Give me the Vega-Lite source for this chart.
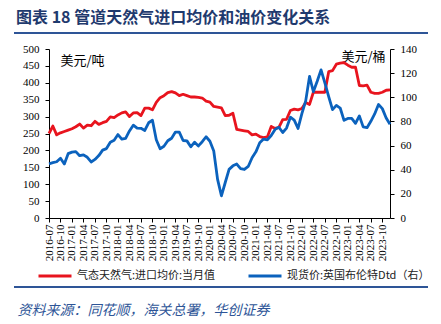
{
  "$schema": "https://vega.github.io/schema/vega-lite/v6.json",
  "background": "white",
  "autosize": "none",
  "width": 341,
  "height": 169,
  "padding": {"left": 49, "top": 49, "right": 51, "bottom": 106},
  "config": {
    "view": {"stroke": null},
    "font": "Noto Sans CJK SC"
  },
  "title": {
    "text": "图表 18 管道天然气进口均价和油价变化关系",
    "orient": "top",
    "anchor": "start",
    "frame": "bounds",
    "offset": 6,
    "dx": 3,
    "font": "Noto Sans CJK SC",
    "fontSize": 16,
    "fontWeight": "bold",
    "color": "#1F3A6E"
  },
  "datasets": {
    "d": [
      {"m":"2016-07","gas":250,"brent":44.9},{"m":"2016-08","gas":272,"brent":45.8},{"m":"2016-09","gas":246,"brent":46.6},
      {"m":"2016-10","gas":252,"brent":49.5},{"m":"2016-11","gas":256,"brent":44.8},{"m":"2016-12","gas":260,"brent":53.3},
      {"m":"2017-01","gas":264,"brent":54.6},{"m":"2017-02","gas":270,"brent":55.0},{"m":"2017-03","gas":278,"brent":51.6},
      {"m":"2017-04","gas":266,"brent":52.3},{"m":"2017-05","gas":275,"brent":50.3},{"m":"2017-06","gas":273,"brent":46.4},
      {"m":"2017-07","gas":286,"brent":48.5},{"m":"2017-08","gas":277,"brent":51.7},{"m":"2017-09","gas":282,"brent":56.2},
      {"m":"2017-10","gas":286,"brent":57.5},{"m":"2017-11","gas":299,"brent":62.7},{"m":"2017-12","gas":297,"brent":64.4},
      {"m":"2018-01","gas":305,"brent":69.1},{"m":"2018-02","gas":311,"brent":65.3},{"m":"2018-03","gas":314,"brent":66.0},
      {"m":"2018-04","gas":300,"brent":72.1},{"m":"2018-05","gas":311,"brent":76.9},{"m":"2018-06","gas":312,"brent":74.4},
      {"m":"2018-07","gas":303,"brent":74.3},{"m":"2018-08","gas":325,"brent":72.5},{"m":"2018-09","gas":325,"brent":78.9},
      {"m":"2018-10","gas":320,"brent":81.0},{"m":"2018-11","gas":342,"brent":64.8},{"m":"2018-12","gas":356,"brent":57.4},
      {"m":"2019-01","gas":362,"brent":59.4},{"m":"2019-02","gas":371,"brent":64.0},{"m":"2019-03","gas":374,"brent":66.1},
      {"m":"2019-04","gas":370,"brent":71.2},{"m":"2019-05","gas":362,"brent":71.1},{"m":"2019-06","gas":366,"brent":64.2},
      {"m":"2019-07","gas":362,"brent":63.9},{"m":"2019-08","gas":358,"brent":59.0},{"m":"2019-09","gas":358,"brent":62.8},
      {"m":"2019-10","gas":357,"brent":59.7},{"m":"2019-11","gas":355,"brent":63.2},{"m":"2019-12","gas":346,"brent":67.3},
      {"m":"2020-01","gas":343,"brent":63.6},{"m":"2020-02","gas":330,"brent":55.5},{"m":"2020-03","gas":328,"brent":32.0},
      {"m":"2020-04","gas":326,"brent":18.4},{"m":"2020-05","gas":303,"brent":29.4},{"m":"2020-06","gas":304,"brent":40.3},
      {"m":"2020-07","gas":310,"brent":43.2},{"m":"2020-08","gas":262,"brent":44.7},{"m":"2020-09","gas":260,"brent":40.9},
      {"m":"2020-10","gas":258,"brent":40.2},{"m":"2020-11","gas":256,"brent":42.7},{"m":"2020-12","gas":246,"brent":49.9},
      {"m":"2021-01","gas":248,"brent":54.8},{"m":"2021-02","gas":241,"brent":62.3},{"m":"2021-03","gas":238,"brent":65.4},
      {"m":"2021-04","gas":240,"brent":64.8},{"m":"2021-05","gas":271,"brent":68.3},{"m":"2021-06","gas":265,"brent":73.4},
      {"m":"2021-07","gas":268,"brent":75.2},{"m":"2021-08","gas":291,"brent":70.8},{"m":"2021-09","gas":292,"brent":74.5},
      {"m":"2021-10","gas":318,"brent":83.5},{"m":"2021-11","gas":322,"brent":81.1},{"m":"2021-12","gas":320,"brent":74.2},
      {"m":"2022-01","gas":324,"brent":86.5},{"m":"2022-02","gas":342,"brent":97.0},{"m":"2022-03","gas":336,"brent":117.3},
      {"m":"2022-04","gas":372,"brent":104.6},{"m":"2022-05","gas":372,"brent":113.3},{"m":"2022-06","gas":372,"brent":122.7},
      {"m":"2022-07","gas":372,"brent":111.9},{"m":"2022-08","gas":433,"brent":100.5},{"m":"2022-09","gas":436,"brent":89.8},
      {"m":"2022-10","gas":455,"brent":93.3},{"m":"2022-11","gas":458,"brent":91.1},{"m":"2022-12","gas":460,"brent":80.9},
      {"m":"2023-01","gas":452,"brent":82.5},{"m":"2023-02","gas":446,"brent":82.6},{"m":"2023-03","gas":446,"brent":78.4},
      {"m":"2023-04","gas":392,"brent":84.6},{"m":"2023-05","gas":391,"brent":75.5},{"m":"2023-06","gas":393,"brent":74.8},
      {"m":"2023-07","gas":372,"brent":80.1},{"m":"2023-08","gas":369,"brent":86.2},{"m":"2023-09","gas":369,"brent":94.0},
      {"m":"2023-10","gas":372,"brent":90.6},{"m":"2023-11","gas":378,"brent":82.9},{"m":"2023-12","gas":379,"brent":77.6}
    ],
    "sep": [
      {"a": 0, "b": 1, "p": "top"},
      {"a": 0, "b": 1, "p": "bottom"}
    ]
  },
  "layer": [
    {
      "data": {"name": "d"},
      "mark": {"type": "line", "strokeWidth": 2.8, "strokeJoin": "round"},
      "encoding": {
        "x": {
          "field": "m",
          "type": "ordinal",
          "sort": null,
          "scale": {"type": "point", "padding": 0},
          "axis": {
            "title": null,
            "values": ["2016-07","2016-10","2017-01","2017-04","2017-07","2017-10","2018-01","2018-04","2018-07","2018-10","2019-01","2019-04","2019-07","2019-10","2020-01","2020-04","2020-07","2020-10","2021-01","2021-04","2021-07","2021-10","2022-01","2022-04","2022-07","2022-10","2023-01","2023-04","2023-07","2023-10"],
            "labelAngle": -90,
            "labelAlign": "right",
            "labelBaseline": "middle",
            "labelFont": "Liberation Serif",
            "labelFontSize": 11,
            "labelColor": "#000000",
            "labelPadding": 2,
            "labelOverlap": false,
            "tickSize": 4,
            "tickColor": "#000000",
            "domainColor": "#000000",
            "grid": false
          }
        },
        "y": {
          "field": "gas",
          "type": "quantitative",
          "scale": {"domain": [0, 500], "nice": false},
          "axis": {
            "title": "美元/吨",
            "titleAngle": 0,
            "titleX": 33,
            "titleY": 11,
            "titleAlign": "center",
            "titleBaseline": "middle",
            "titleFont": "Noto Sans CJK SC",
            "titleFontSize": 13,
            "titleFontWeight": "normal",
            "titleColor": "#000000",
            "values": [0,50,100,150,200,250,300,350,400,450,500],
            "labelFont": "Liberation Serif",
            "labelFontSize": 11,
            "labelColor": "#000000",
            "labelPadding": 6,
            "tickSize": 4,
            "tickColor": "#000000",
            "domainColor": "#000000",
            "grid": false
          }
        },
        "color": {
          "datum": "气态天然气:进口均价:当月值",
          "type": "nominal",
          "scale": {
            "domain": ["气态天然气:进口均价:当月值", "现货价:英国布伦特Dtd（右）"],
            "range": ["#E8141E", "#0B62BD"]
          },
          "legend": {
            "orient": "none",
            "legendX": -12,
            "legendY": 209,
            "direction": "horizontal",
            "title": null,
            "symbolType": "stroke",
            "symbolSize": 1089,
            "symbolStrokeWidth": 3,
            "labelFont": "Noto Sans CJK SC",
            "labelFontSize": 11,
            "labelColor": "#222222",
            "labelOffset": 4,
            "labelLimit": 300,
            "columnPadding": 26,
            "padding": 0
          }
        }
      }
    },
    {
      "data": {"name": "d"},
      "mark": {"type": "line", "strokeWidth": 2.8, "strokeJoin": "round"},
      "encoding": {
        "x": {
          "field": "m",
          "type": "ordinal",
          "sort": null,
          "scale": {"type": "point", "padding": 0},
          "axis": null
        },
        "y": {
          "field": "brent",
          "type": "quantitative",
          "scale": {"domain": [0, 140], "nice": false},
          "axis": {
            "orient": "right",
            "title": "美元/桶",
            "titleAngle": 0,
            "titleX": -27,
            "titleY": 7,
            "titleAlign": "center",
            "titleBaseline": "middle",
            "titleFont": "Noto Sans CJK SC",
            "titleFontSize": 13,
            "titleFontWeight": "normal",
            "titleColor": "#000000",
            "values": [0,20,40,60,80,100,120,140],
            "labelFont": "Liberation Serif",
            "labelFontSize": 11,
            "labelColor": "#000000",
            "labelPadding": 6,
            "tickSize": 4,
            "tickColor": "#000000",
            "domainColor": "#000000",
            "grid": false
          }
        },
        "color": {
          "datum": "现货价:英国布伦特Dtd（右）",
          "type": "nominal"
        }
      }
    },
    {
      "data": {"name": "sep"},
      "mark": {"type": "rule", "color": "#2E5597", "strokeWidth": 2, "clip": false, "opacity": 1},
      "encoding": {
        "x": {
          "field": "a",
          "type": "quantitative",
          "scale": {"domain": [0, 1], "range": [-35, 379], "nice": false, "zero": false},
          "axis": {
            "orient": "top",
            "domain": false,
            "ticks": false,
            "labels": false,
            "grid": false,
            "title": "资料来源：同花顺，海关总署，华创证券",
            "titleX": -32,
            "titleY": 261,
            "titleAlign": "left",
            "titleAnchor": "start",
            "titleBaseline": "middle",
            "titleAngle": 0,
            "titleFont": "Noto Sans CJK SC",
            "titleFontSize": 14,
            "titleFontStyle": "italic",
            "titleFontWeight": "normal",
            "titleColor": "#2E5597"
          }
        },
        "x2": {"field": "b"},
        "y": {
          "field": "p",
          "type": "ordinal",
          "sort": null,
          "scale": {"type": "point", "domain": ["top", "bottom"], "range": [-16, 238], "padding": 0},
          "axis": null
        }
      }
    }
  ],
  "resolve": {"scale": {"x": "independent", "y": "independent"}}
}
